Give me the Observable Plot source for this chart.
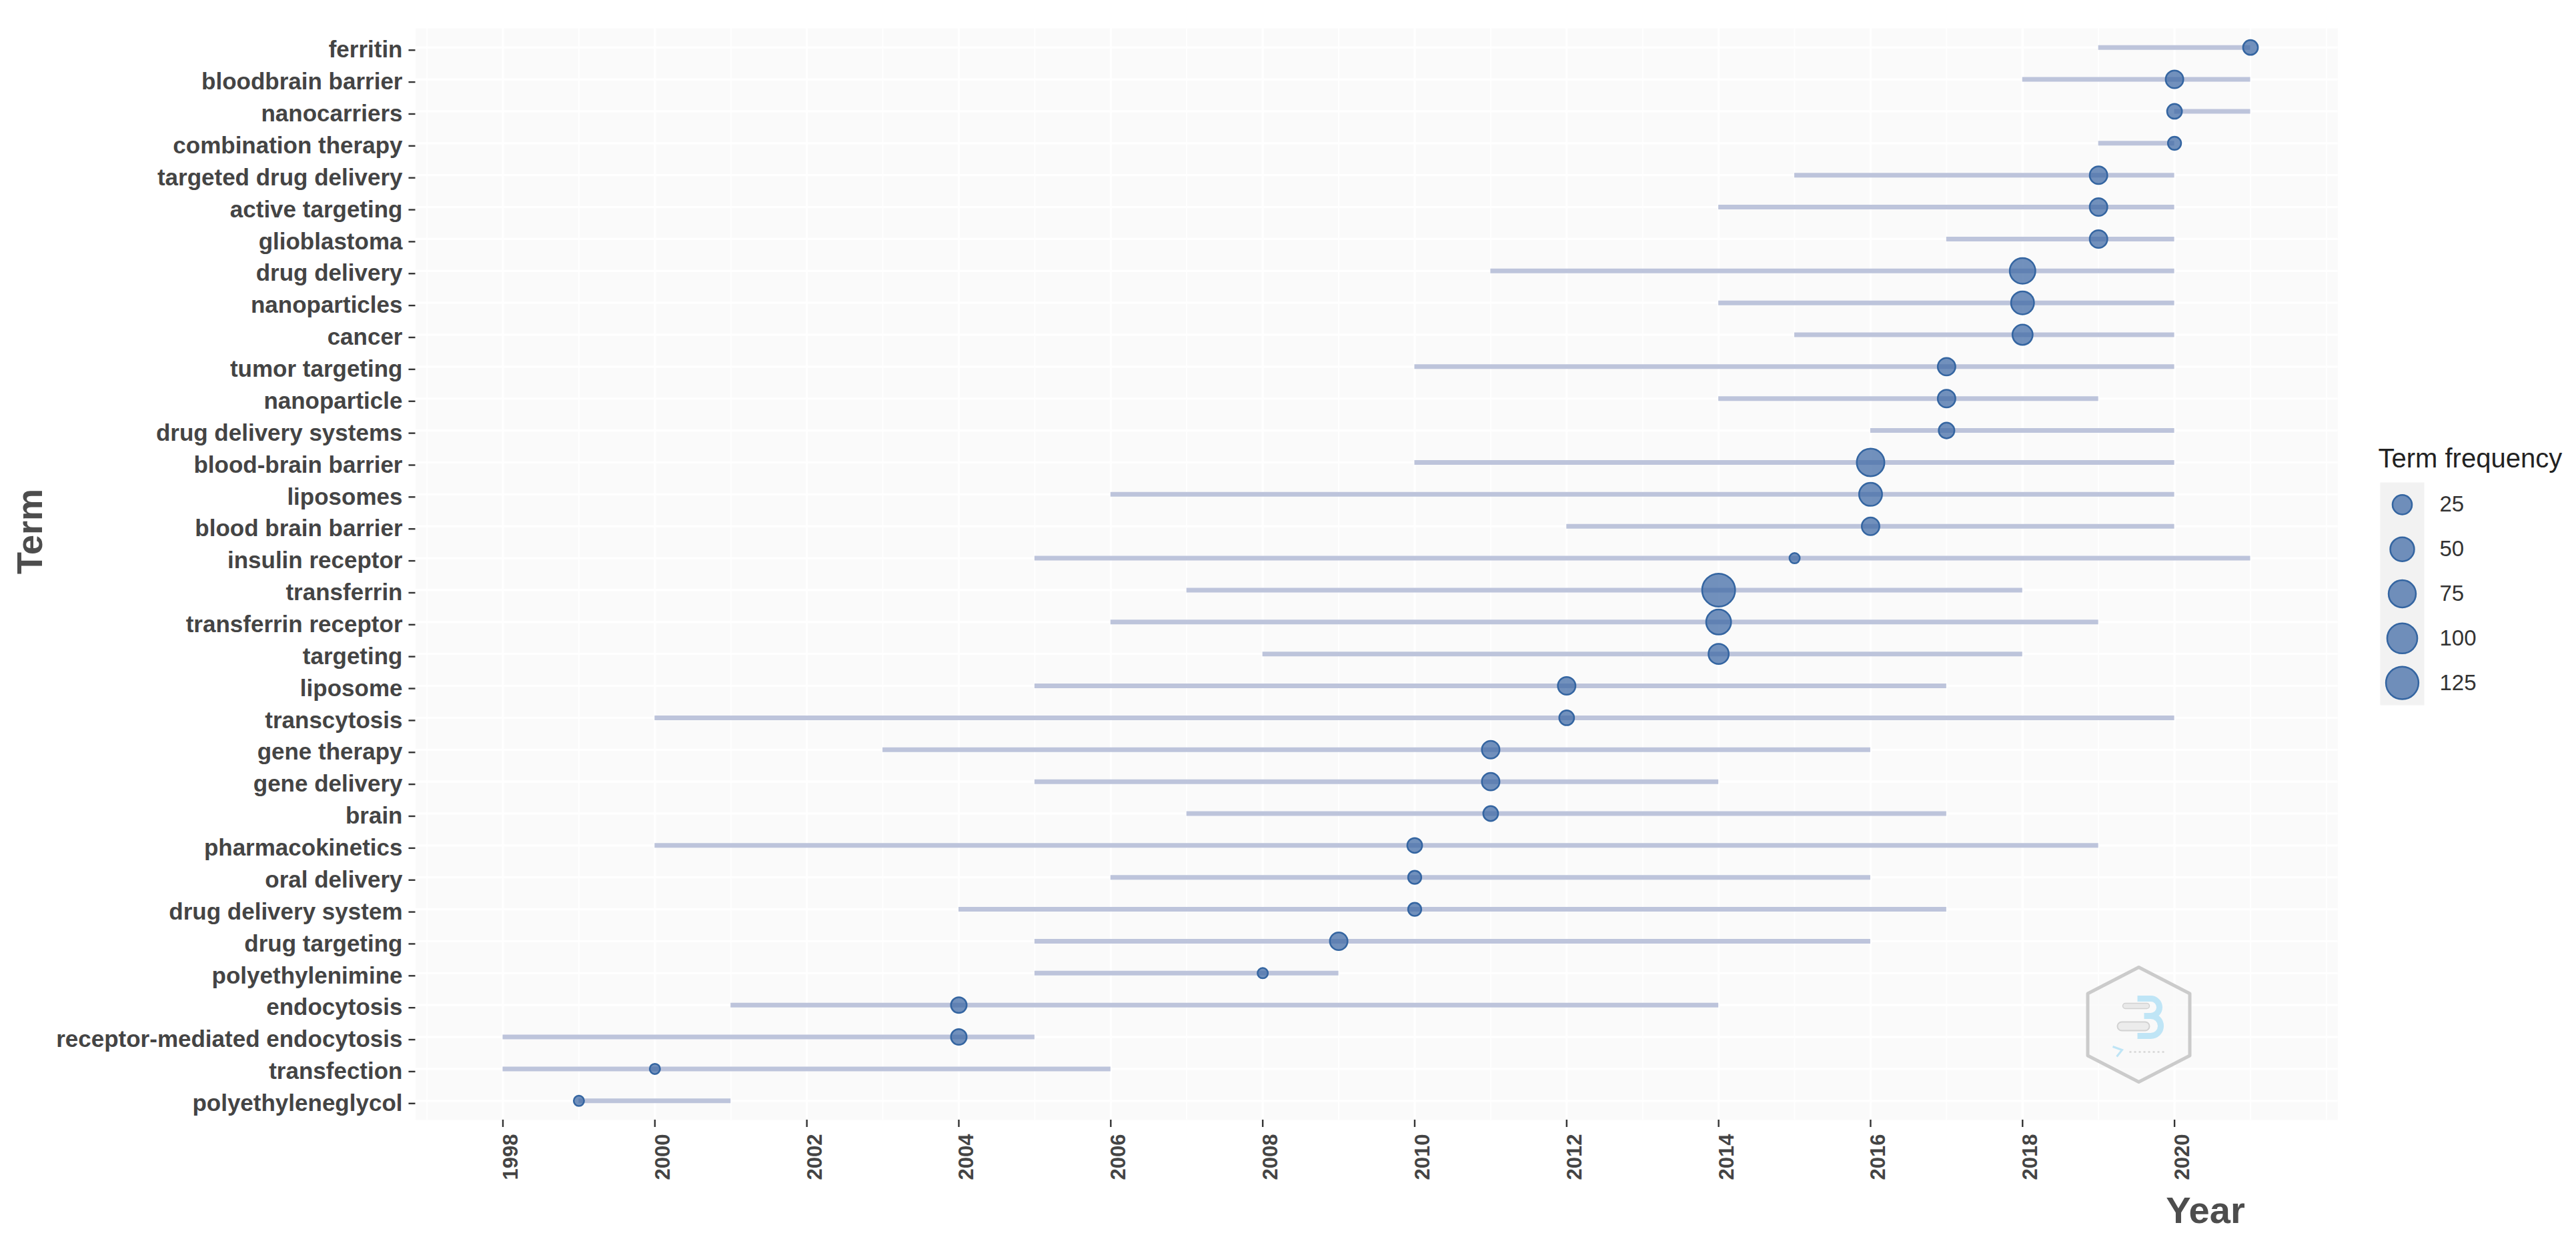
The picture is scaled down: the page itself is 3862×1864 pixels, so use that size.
<!DOCTYPE html>
<html>
<head>
<meta charset="utf-8">
<script src="https://cdn.jsdelivr.net/npm/d3@7"></script>
<script src="https://cdn.jsdelivr.net/npm/@observablehq/plot@0.6"></script>
<style>
html, body { margin: 0; padding: 0; background: #ffffff; }
#wrap { position: relative; width: 3862px; height: 1864px; overflow: hidden; font-family: "Liberation Sans", Arial, sans-serif; }
#legend { position: absolute; left: 3568px; top: 663px; width: 340px; height: 394px; }
#legend svg { max-width: none !important; }
#logo { position: absolute; left: 0; top: 0; pointer-events: none; }
</style>
</head>
<body>
<div id="wrap"></div>
<script>
// ---- data ----
const terms = [
  "ferritin", "bloodbrain barrier", "nanocarriers", "combination therapy",
  "targeted drug delivery", "active targeting", "glioblastoma", "drug delivery",
  "nanoparticles", "cancer", "tumor targeting", "nanoparticle",
  "drug delivery systems", "blood-brain barrier", "liposomes", "blood brain barrier",
  "insulin receptor", "transferrin", "transferrin receptor", "targeting",
  "liposome", "transcytosis", "gene therapy", "gene delivery", "brain",
  "pharmacokinetics", "oral delivery", "drug delivery system", "drug targeting",
  "polyethylenimine", "endocytosis", "receptor-mediated endocytosis",
  "transfection", "polyethyleneglycol"
];
const yearQ1 = [2019, 2018, 2020, 2019, 2015, 2014, 2017, 2011, 2014, 2015, 2010, 2014, 2016, 2010, 2006, 2012, 2005,
  2007, 2006, 2008, 2005, 2000, 2003, 2005, 2007, 2000, 2006, 2004, 2005, 2005, 2001, 1998, 1998, 1999];
const yearMedian = [2021, 2020, 2020, 2020, 2019, 2019, 2019, 2018, 2018, 2018, 2017, 2017, 2017, 2016, 2016, 2016, 2015,
  2014, 2014, 2014, 2012, 2012, 2011, 2011, 2011, 2010, 2010, 2010, 2009, 2008, 2004, 2004, 2000, 1999];
const yearQ3 = [2021, 2021, 2021, 2020, 2020, 2020, 2020, 2020, 2020, 2020, 2020, 2019, 2020, 2020, 2020, 2020, 2021,
  2018, 2019, 2018, 2017, 2020, 2016, 2014, 2017, 2019, 2016, 2017, 2016, 2009, 2014, 2005, 2006, 2001];
const termFreq = [10, 18, 10, 7, 18, 18, 18, 62, 44, 29, 18, 18, 12, 78, 44, 18, 5,
  130, 57, 29, 18, 10, 18, 18, 10, 10, 7, 7, 18, 5, 12, 12, 5, 5];
const yearTicks = [1998, 2000, 2002, 2004, 2006, 2008, 2010, 2012, 2014, 2016, 2018, 2020];
const legendBreaks = [25, 50, 75, 100, 125];

// ---- build ----
const data = terms.map((term, i) => ({term, q1: yearQ1[i], median: yearMedian[i], q3: yearQ3[i], freq: termFreq[i]}));
const fMin = d3.min(termFreq), fMax = d3.max(termFreq);
const rScale = {type: "sqrt", domain: [0, fMax - fMin], range: [7.75, 24.75]};
const yrMin = d3.min(yearQ1), yrMax = d3.max(yearQ3);
const pad = (yrMax - yrMin) * 0.05;
const xDomain = [yrMin - pad, yrMax + pad];
const gridYears = d3.range(Math.ceil(xDomain[0]), Math.floor(xDomain[1]) + 1);

const font = "'Liberation Sans', Arial, Helvetica, sans-serif";
const pointFill = "#3b66a3", pointStroke = "#3465a1";

const chart = Plot.plot({
  width: 3862,
  height: 1864,
  marginLeft: 622.5,
  marginRight: 357.5,
  marginTop: 42,
  marginBottom: 185,
  style: {fontFamily: font, background: "transparent", maxWidth: "none"},
  x: {domain: xDomain},
  y: {domain: terms, padding: 0.6, round: false},
  r: rScale,
  marks: [
    Plot.frame({fill: "#fafafa", stroke: null}),
    Plot.ruleX(gridYears, {stroke: "#ffffff", strokeWidth: 1.8}),
    Plot.ruleX(yearTicks, {stroke: "#ffffff", strokeWidth: 3.2}),
    Plot.ruleY(terms, {stroke: "#ffffff", strokeWidth: 3.2}),
    Plot.ruleY(data, {y: "term", x1: "q1", x2: "q3", stroke: "#bdc4db", strokeWidth: 7}),
    Plot.dot(data, {x: "median", y: "term", r: d => d.freq - fMin, fill: pointFill, fillOpacity: 0.72,
      stroke: pointStroke, strokeWidth: 2.5}),
    Plot.axisY({tickSize: 10, tickPadding: 9.5, fontSize: 35, fontWeight: "bold", dy: 4,
      fill: "#444444", stroke: "#333333", strokeWidth: 2.4, label: null}),
    Plot.axisX({ticks: yearTicks, tickFormat: d => String(d), tickRotate: -90, tickSize: 11, tickPadding: 10,
      textAnchor: "end", lineAnchor: "top", fontSize: 31, fontWeight: "bold",
      fill: "#444444", stroke: "#333333", strokeWidth: 2.4, label: null}),
    Plot.text(["Term"], {text: d => d, frameAnchor: "left", dx: -577.5, rotate: -90,
      fontSize: 54, fontWeight: "bold", fill: "#4d4d4d"}),
    Plot.text(["Year"], {text: d => d, frameAnchor: "bottom", dx: 1242.5, dy: 154, lineAnchor: "bottom",
      fontSize: 56, fontWeight: "bold", fill: "#4d4d4d"})
  ]
});

const wrap = document.getElementById("wrap");
wrap.appendChild(chart);

// ---- size legend ----
const legendPlot = Plot.plot({
  width: 340,
  height: 394,
  marginLeft: 0,
  marginRight: 274,
  marginTop: 60,
  marginBottom: 0,
  style: {fontFamily: font, background: "transparent", overflow: "visible", maxWidth: "none"},
  y: {type: "band", domain: legendBreaks, padding: 0, round: false, axis: null},
  r: rScale,
  marks: [
    Plot.frame({fill: "#f2f2f2", stroke: null}),
    Plot.dot(legendBreaks, {y: d => d, r: d => d - fMin, fill: pointFill, fillOpacity: 0.72,
      stroke: pointStroke, strokeWidth: 2.5}),
    Plot.text(legendBreaks, {y: d => d, text: d => String(d), frameAnchor: "right", dx: 23,
      textAnchor: "start", fontSize: 33, fill: "#333333"}),
    Plot.text(["Term frequency"], {text: d => d, frameAnchor: "top-left", dx: -3, dy: -23,
      textAnchor: "start", lineAnchor: "bottom", fontSize: 40, fill: "#222222"})
  ]
});
const legendDiv = document.createElement("div");
legendDiv.id = "legend";
legendDiv.appendChild(legendPlot);
wrap.appendChild(legendDiv);

// ---- watermark logo (decoration) ----
const ns = "http://www.w3.org/2000/svg";
const logo = document.createElementNS(ns, "svg");
logo.setAttribute("id", "logo");
logo.setAttribute("width", "3862");
logo.setAttribute("height", "1864");
logo.innerHTML = `
<g transform="translate(3206.5,1536.5)">
  <polygon points="0,-86 76.5,-46.5 76.5,46.5 0,86 -76.5,46.5 -76.5,-46.5"
    fill="#f8f8f8" fill-opacity="0.7" stroke="#cbcbcb" stroke-width="5" stroke-linejoin="round"/>
  <rect x="-24" y="-32" width="40" height="8" rx="4" fill="#e9e9e9" stroke="#d2d2d2" stroke-width="1.5"/>
  <rect x="-32" y="-4" width="48" height="13" rx="6.5" fill="#ececec" stroke="#d2d2d2" stroke-width="2"/>
  <path d="M -2 -39 H 18 A 13 13 0 0 1 18 -13 H 8 M 18 -13 A 15 15 0 0 1 18 17 H -2"
    fill="none" stroke="#bfe5f6" stroke-width="9"/>
  <path d="M -39 33 L -25 38 L -33 48" fill="none" stroke="#bfe5f6" stroke-width="3"/>
  <line x1="-14" y1="41" x2="40" y2="41" stroke="#d6d6d6" stroke-width="2.5" stroke-dasharray="3 4"/>
</g>`;
wrap.appendChild(logo);
</script>
</body>
</html>
